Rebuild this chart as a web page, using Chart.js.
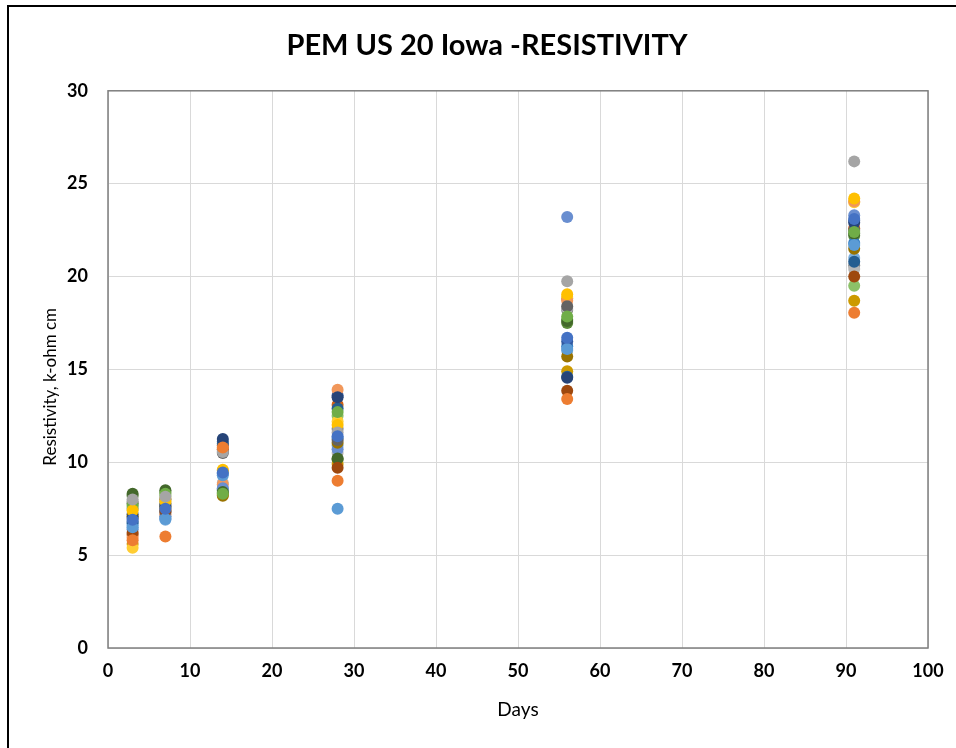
<!DOCTYPE html>
<html>
<head>
    <meta charset="utf-8" />
    <title>PEM US 20 Iowa - Resistivity</title>
    <script src="https://cdn.jsdelivr.net/npm/chart.js@4/dist/chart.umd.min.js"></script>
    <style>
        body, html {
            background: white;
            margin: 0;
            padding: 0;
            overflow: hidden;
        }
        #chartContainer {
            width: 956px;
            height: 748px;
        }
    </style>
</head>
<body>
    <div id="chartContainer">
        <canvas id="myChart" width="956" height="748"></canvas>
    </div>

    <script>
        // test ages, days
        const days = [3, 7, 14, 28, 56, 91];

        // Excel-style series colours, one per specimen
        const seriesColors = [
            '#4472C4', '#ED7D31', '#A5A5A5', '#FFC000', '#5B9BD5', '#70AD47',
            '#264478', '#9E480E', '#636363', '#997300', '#255E91', '#43682B',
            '#698ED0', '#F1975A', '#B7B7B7', '#FFCD33', '#7CAFDD', '#8CC168',
            '#335AA1', '#D26012', '#848484', '#CC9A00', '#327DC2', '#5A8A39'
        ];

        // resistivity, k-ohm cm, at each age (one row per specimen)
        const s01 = [6.9, 7.5, 9.45, 11.4, 16.7, 23.1];
        const s02 = [5.8, 6.0, 10.8, 9.0, 13.4, 18.05];
        const s03 = [8.0, 8.15, 10.55, 11.6, 19.75, 26.2];
        const s04 = [7.4, 7.9, 9.6, 12.0, 19.05, 24.2];
        const s05 = [6.5, 6.95, 9.3, 7.5, 16.1, 21.7];
        const s06 = [7.7, 8.3, 8.3, 12.7, 17.85, 22.4];
        const s07 = [7.0, 7.7, 11.25, 13.5, 14.55, 22.9];
        const s08 = [6.2, 7.4, 10.7, 9.7, 13.85, 20.0];
        const s09 = [7.8, 8.0, 10.5, 11.2, 18.4, 22.5];
        const s10 = [7.1, 7.6, 8.2, 11.05, 15.7, 21.5];
        const s11 = [6.8, 7.35, 11.0, 12.9, 14.6, 20.8];
        const s12 = [8.3, 8.5, 8.4, 10.2, 17.6, 22.3];
        const s13 = [6.4, 7.0, 8.6, 10.7, 23.2, 23.3];
        const s14 = [5.95, 7.2, 8.8, 13.9, 18.7, 24.05];
        const s15 = [7.9, 7.8, 8.9, 10.5, 18.3, 20.4];
        const s16 = [5.4, 8.05, 9.55, 12.2, 18.9, 24.0];
        const s17 = [6.6, 6.9, 8.55, 10.9, 16.0, 21.0];
        const s18 = [7.6, 8.2, 8.5, 12.5, 17.7, 19.5];
        const s19 = [7.2, 7.6, 11.1, 13.6, 16.5, 23.0];
        const s20 = [6.1, 7.3, 10.9, 13.1, 18.8, 22.6];
        const s21 = [7.5, 7.5, 10.6, 11.8, 18.2, 20.6];
        const s22 = [5.6, 7.8, 8.25, 9.9, 14.9, 18.7];
        const s23 = [6.7, 7.1, 9.4, 11.3, 16.25, 21.8];
        const s24 = [8.2, 8.4, 8.35, 10.15, 17.5, 22.2];

        const specimens = [s01, s02, s03, s04, s05, s06, s07, s08, s09, s10, s11, s12,
                           s13, s14, s15, s16, s17, s18, s19, s20, s21, s22, s23, s24];

        const xTicks = [0, 10, 20, 30, 40, 50, 60, 70, 80, 90, 100];
        const yTicks = [0, 5, 10, 15, 20, 25, 30];

        const fontFamily = 'Lato, "Open Sans", sans-serif';

        // outer frame and plot-area border
        const framePlugin = {
            id: 'frame',
            afterLayout(chart) {
                // title sits a little right of the canvas centre, as in the original
                if (chart.titleBlock) chart.titleBlock.left = 46;
            },
            beforeDraw(chart) {
                const ctx = chart.ctx;
                ctx.save();
                ctx.fillStyle = '#ffffff';
                ctx.fillRect(0, 0, chart.width, chart.height);
                ctx.strokeStyle = '#000000';
                ctx.lineWidth = 2;
                ctx.beginPath();
                ctx.moveTo(8, chart.height + 2);
                ctx.lineTo(8, 6);
                ctx.lineTo(chart.width + 2, 6);
                ctx.stroke();
                ctx.restore();
            },
            afterDatasetsDraw(chart) {
                const a = chart.chartArea;
                const ctx = chart.ctx;
                ctx.save();
                ctx.strokeStyle = '#7f7f7f';
                ctx.lineWidth = 1.5;
                ctx.strokeRect(a.left, a.top, a.right - a.left, a.bottom - a.top);
                ctx.restore();
            }
        };

        function renderChart()
        {
            const datasets = specimens.map((vals, i) => ({
                label: 'Specimen ' + (i + 1),
                data: days.map((d, j) => ({ x: d, y: vals[j] })),
                backgroundColor: seriesColors[i],
                borderColor: seriesColors[i],
                pointRadius: 6,
                pointBorderWidth: 0,
                showLine: false
            }));

            const config = {
                type: 'scatter',
                data: { datasets },
                options: {
                    responsive: false,
                    maintainAspectRatio: false,
                    animation: false,
                    layout: { padding: { left: 0, right: 28, top: 0, bottom: 0 } },
                    scales: {
                        x: {
                            type: 'linear',
                            min: 0,
                            max: 100,
                            afterBuildTicks: s => { s.ticks = xTicks.map(v => ({ value: v })); },
                            afterFit: s => { s.height = 100; },
                            grid: { color: '#d9d9d9', drawTicks: false },
                            border: { display: false },
                            ticks: {
                                padding: 12,
                                color: '#000',
                                font: { family: fontFamily, size: 18, weight: 'bold' }
                            },
                            title: {
                                display: true,
                                text: 'Days',
                                color: '#000',
                                padding: { top: 0, bottom: 27 },
                                font: { family: fontFamily, size: 19 }
                            }
                        },
                        y: {
                            min: 0,
                            max: 30,
                            afterBuildTicks: s => { s.ticks = yTicks.map(v => ({ value: v })); },
                            afterFit: s => { s.width = 108; },
                            grid: { color: '#d9d9d9', drawTicks: false },
                            border: { display: false },
                            ticks: {
                                padding: 20,
                                color: '#000',
                                font: { family: fontFamily, size: 18, weight: 'bold' }
                            },
                            title: {
                                display: true,
                                // trailing spaces nudge the label below the plot centre
                                text: 'Resistivity, k-ohm cm        ',
                                color: '#000',
                                padding: { top: 40, bottom: 0 },
                                font: { family: fontFamily, size: 17 }
                            }
                        }
                    },
                    plugins: {
                        legend: { display: false },
                        tooltip: { enabled: false },
                        title: {
                            display: true,
                            text: 'PEM US 20 Iowa -RESISTIVITY',
                            color: '#000',
                            padding: { top: 28, bottom: 28 },
                            font: { family: fontFamily, size: 29, weight: 'bold', lineHeight: 1.2 }
                        }
                    }
                },
                plugins: [framePlugin]
            };

            const ctx = document.getElementById('myChart').getContext('2d');
            new Chart(ctx, config);
        }
        window.addEventListener('DOMContentLoaded', renderChart);
    </script>
</body>
</html>
